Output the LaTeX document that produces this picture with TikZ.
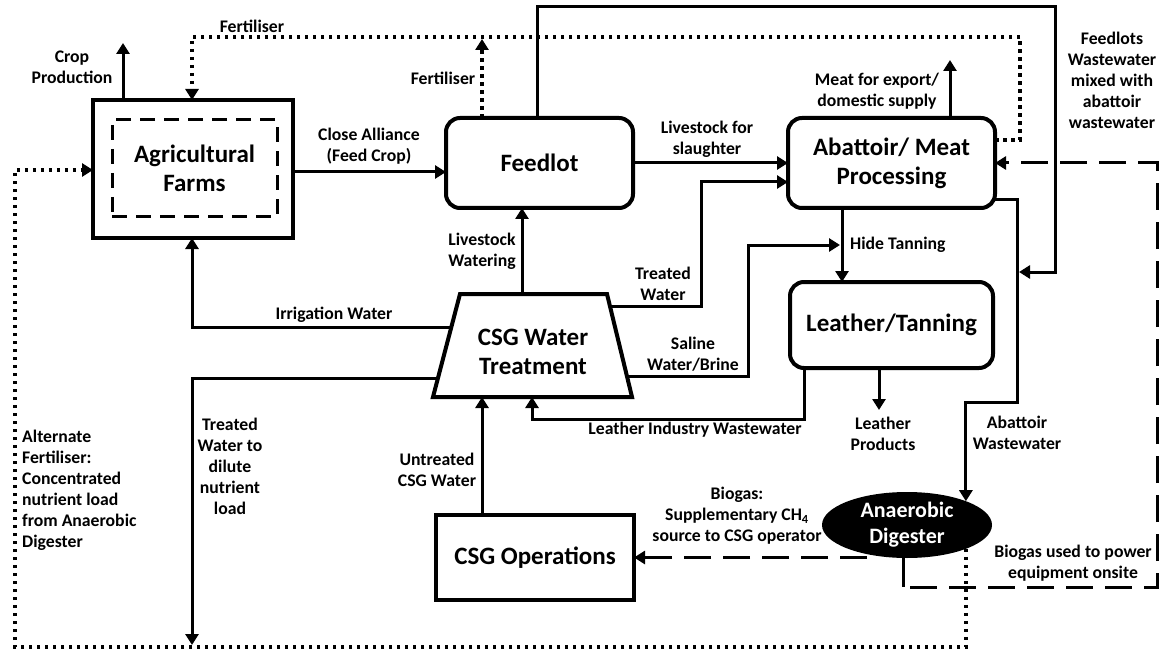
\documentclass[tikz,border=0pt]{standalone}
\usepackage{fontspec}
\setmainfont{Carlito}
\usetikzlibrary{arrows.meta,shapes.geometric,calc}

\begin{document}
\begin{tikzpicture}[x=1pt,y=-1pt,
    font=\bfseries\fontsize{17.7}{21}\selectfont,
    arr/.style={-{Triangle[length=11pt,width=13pt]}},
    conn/.style={line width=3pt},
    dot/.style={line width=3.5pt,dash pattern=on 3.5pt off 4.5pt},
    longdash/.style={line width=3pt,dash pattern=on 27pt off 12pt},
    box/.style={draw,line width=4pt,inner sep=0pt,outer sep=0pt,align=center,
        font=\bfseries\fontsize{25}{29}\selectfont},
    rbox/.style={box,rounded corners=14pt},
    lbl/.style={align=center,inner sep=0pt}]
    \useasboundingbox (0,0) rectangle (1159,655);

    % boxes
    \node[box,minimum width=200,minimum height=138] (farms) at (193,169) {};
    \node[box,line width=3pt,dash pattern=on 15pt off 9pt,minimum width=165,minimum height=97] (farmsin) at (194.5,168.5) {Agricultural\\Farms};
    \node[rbox,minimum width=187,minimum height=90] (feedlot) at (539.5,163) {Feedlot};
    \node[rbox,minimum width=207,minimum height=90] (abattoir) at (891.5,163) {Abattoir/ Meat\\Processing};
    \node[rbox,minimum width=203,minimum height=86] (leather) at (891.5,325) {Leather/Tanning};
    % water treatment plant
    \coordinate (wtbl) at (433,397);
    \coordinate (wttl) at (460,294);
    \coordinate (wttr) at (607,294);
    \coordinate (wtbr) at (632,397);
    \draw[line width=4pt,line join=miter] (wtbl) -- (wttl) -- (wttr) -- (wtbr) -- cycle;
    \node[lbl,font=\bfseries\fontsize{25}{29}\selectfont] (csgwt) at (533,352) {CSG Water\\Treatment};
    \node[box,minimum width=198,minimum height=85] (csgops) at (535,557.5) {CSG Operations};
    \node[ellipse,fill=black,inner sep=0pt,outer sep=0pt,minimum width=170,minimum height=66] (digester) at (907,525) {};
    \node[lbl,text=white,font=\bfseries\fontsize{22}{26}\selectfont] (digesterl) at (907,525) {Anaerobic\\Digester};

    % free ends
    \coordinate (cropout) at (123,43);
    \coordinate (meatout) at (950,60);
    \coordinate (prodout) at (879,410);
    \coordinate (fertjoin) at (482,39);
    \coordinate (dilutend) at (192,645);
    \coordinate (wwjoin) at (1019,272);
    \coordinate (hidejoin) at (840,245);

    % connectors
    \draw[conn,arr] (farms.north -| cropout) -- (cropout);
    \draw[dot,arr] (abattoir.east |- 0,140) -- (1020,140) -- (1020,37) -- (192,37) -- (farms.north -| 192,0);
    \draw[dot,arr] (feedlot.north -| fertjoin) -- (fertjoin);
    \draw[conn,arr] (farms.east |- 0,172) -- (feedlot.west |- 0,172);
    \draw[conn,arr] (feedlot.north -| 537,0) -- (537,7) -- (1055,7) -- (1055,272) -- (wwjoin);
    \draw[conn,arr] (feedlot.east) -- (abattoir.west);
    \draw[conn,arr] (abattoir.north -| meatout) -- (meatout);
    \draw[conn] (digester.south -| 903,0) -- (903,587);
    \draw[longdash,arr] (910,587) -- (1157,587) -- (1157,163) -- (abattoir.east);
    \draw[conn,arr] (abattoir.south -| 842,0) -- (leather.north -| 842,0);
    \draw[conn,arr] ($(wtbr)!0.2!(wttr)$) -| (748,245) -- (hidejoin);
    \draw[conn,arr] ($(wtbr)!0.88!(wttr)$) -| (701,182) -- (abattoir.west |- 0,182);
    \draw[conn,arr] (abattoir.east |- 0,200) -| (1017,402) -| (digester.22);
    \draw[conn,arr] (leather.south -| prodout) -- (prodout);
    \draw[conn,arr] (leather.south -| 804,0) |- (532,419) -- (wtbl -| 532,0);
    \draw[conn,arr] (wttl -| 522,0) -- (feedlot.south -| 522,0);
    \draw[conn,arr] ($(wtbl)!0.67!(wttl)$) -| (farms.south -| 192,0);
    \draw[conn,arr] ($(wtbl)!0.18!(wttl)$) -| (dilutend);
    \draw[conn,arr] (csgops.north -| 482,0) -- (wtbl -| 482,0);
    \draw[longdash,arr] (csgops.east -| 867,0) -- (csgops.east);
    \draw[dot,arr] (digester.-22) |- (15,647) |- (farms.west |- 0,170);

    % labels
    \node[lbl] (cropl) at (72,67) {Crop\\Production};
    \node[lbl] (fertl) at (252,26) {Fertiliser};
    \node[lbl] (fertfl) at (443,78) {Fertiliser};
    \node[lbl] (alliancel) at (369,146) {Close Alliance\\(Feed Crop)};
    \node[lbl] (slaughterl) at (707,139) {Livestock for\\slaughter};
    \node[lbl] (meatl) at (877,91) {Meat for export/\\domestic supply};
    \node[lbl] (mixl) at (1112,80) {Feedlots\\Wastewater\\mixed with\\abattoir\\wastewater};
    \node[lbl,anchor=west] (hidel) at (850,245) {Hide Tanning};
    \node[lbl] (livewatl) at (482,251) {Livestock\\Watering};
    \node[lbl] (treatedl) at (663,284) {Treated\\Water};
    \node[lbl] (irrigl) at (334,315) {Irrigation Water};
    \node[lbl] (salinel) at (693,354) {Saline\\Water/Brine};
    \node[lbl] (lwwl) at (695,430) {Leather Industry Wastewater};
    \node[lbl] (prodl) at (883,434) {Leather\\Products};
    \node[lbl] (aawl) at (1017,433) {Abattoir\\Wastewater};
    \node[lbl] (dilutel) at (230,466) {Treated\\Water to\\dilute\\nutrient\\load};
    \node[lbl] (untreatedl) at (437,470) {Untreated\\CSG Water};
    \node[lbl,align=left,anchor=west] (altl) at (22,490) {Alternate\\Fertiliser:\\Concentrated\\nutrient load\\from Anaerobic\\Digester};
    \node[lbl] (biogasl) at (737,516) {Biogas:\\Supplementary CH\textsubscript{4}\\source to CSG operator};
    \node[lbl] (powerl) at (1073,563) {Biogas used to power\\equipment onsite};
\end{tikzpicture}
\end{document}
